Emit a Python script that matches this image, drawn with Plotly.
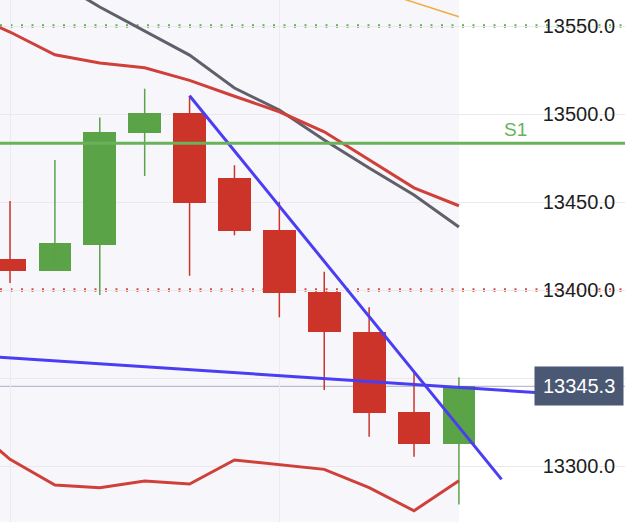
import plotly.graph_objects as go

# ---- data ----
idx = [0, 1, 2, 3, 4, 5, 6, 7, 8, 9, 10]
opens = [13417.6, 13410.8, 13425.6, 13489.4, 13500.4, 13463.8, 13434.3, 13398.7, 13376.0, 13330.9, 13312.5]
highs = [13450.6, 13473.9, 13498.1, 13514.4, 13510.4, 13470.9, 13450.2, 13410.4, 13390.2, 13353.0, 13350.4]
lows = [13404.0, 13410.8, 13397.2, 13464.8, 13408.1, 13431.1, 13384.5, 13343.2, 13316.6, 13305.3, 13278.2]
closes = [13410.8, 13426.5, 13489.6, 13500.4, 13449.6, 13433.7, 13398.1, 13376.0, 13330.3, 13312.5, 13345.3]

line_x = [-1, 0, 1, 2, 3, 4, 5, 6, 7, 8, 9, 10]
gray_ma = [13605.0, 13590.3, 13576.1, 13560.8, 13547.2, 13533.5, 13514.8, 13502.3, 13485.2, 13469.3, 13454.0, 13435.8]
red_ma = [13558.0, 13546.6, 13533.7, 13529.0, 13526.3, 13519.1, 13510.1, 13501.3, 13489.9, 13473.9, 13458.1, 13447.9]
lower_band = [13325.7, 13303.8, 13289.2, 13287.7, 13291.5, 13289.8, 13303.4, 13300.7, 13298.1, 13287.7, 13274.6, 13291.6]
orange_x = [8, 9, 10]
orange_line = [13571.6, 13563.3, 13555.3]

trend1_x = [4, 10.95]
trend1_y = [13510.4, 13292.4]
trend2_x = [-1, 11.7]
trend2_y = [13363.1, 13341.8]

resistance_level = 13550.0
support_dotted = 13400.0
s1_level = 13483.4
s1_label = "S1"
last_price = 13345.3

y_ticks = [13300, 13350, 13400, 13450, 13500, 13550]
y_labels = ["13300.0", "", "13400.0", "13450.0", "13500.0", "13550.0"]

UP = "#5ba347"
DOWN = "#cc342a"

fig = go.Figure()

# background lavender region (up to last candle)
fig.add_shape(type="rect", xref="x", yref="paper", x0=-1, x1=idx[-1], y0=0, y1=1,
              fillcolor="#f7f7fb", line_width=0, layer="below")

# horizontal reference lines
fig.add_shape(type="line", xref="paper", yref="y", x0=0, x1=1, y0=resistance_level, y1=resistance_level,
              line=dict(color="#62ad52", width=3.5, dash="2px,8.5px"), layer="between")
fig.add_shape(type="line", xref="paper", yref="y", x0=0, x1=1, y0=support_dotted, y1=support_dotted,
              line=dict(color="#d94a40", width=3.5, dash="2px,8.5px"), layer="between")
fig.add_shape(type="line", xref="paper", yref="y", x0=0, x1=1, y0=last_price, y1=last_price,
              line=dict(color="#a9aec0", width=1), layer="between")

# wicks
for i, h, l, o, c in zip(idx, highs, lows, opens, closes):
    col = UP if c >= o else DOWN
    fig.add_trace(go.Scatter(x=[i, i], y=[l, h], mode="lines", line=dict(color=col, width=1.5),
                             hoverinfo="skip", showlegend=False))

# bodies
bases = [min(o, c) for o, c in zip(opens, closes)]
heights = [max(abs(c - o), 0.3) for o, c in zip(opens, closes)]
colors = [UP if c >= o else DOWN for o, c in zip(opens, closes)]
fig.add_trace(go.Bar(x=idx, y=heights, base=bases, width=0.73,
                     marker=dict(color=colors, line=dict(width=0)), showlegend=False))

# S1 line
fig.add_shape(type="line", xref="paper", yref="y", x0=0, x1=1, y0=s1_level, y1=s1_level,
              line=dict(color="#6ab25a", width=3), layer="above")

# moving averages / bands
fig.add_trace(go.Scatter(x=line_x, y=gray_ma, mode="lines", line=dict(color="#60606c", width=3), showlegend=False))
fig.add_trace(go.Scatter(x=line_x, y=red_ma, mode="lines", line=dict(color="#d0403a", width=3), showlegend=False))
fig.add_trace(go.Scatter(x=line_x, y=lower_band, mode="lines", line=dict(color="#d0403a", width=3), showlegend=False))
fig.add_trace(go.Scatter(x=orange_x, y=orange_line, mode="lines", line=dict(color="#f0ad3c", width=1.5), showlegend=False))

# trend lines
fig.add_trace(go.Scatter(x=trend1_x, y=trend1_y, mode="lines", line=dict(color="#4b3df2", width=3), showlegend=False))
fig.add_trace(go.Scatter(x=trend2_x, y=trend2_y, mode="lines", line=dict(color="#4b3df2", width=3), showlegend=False))

# annotations
fig.add_annotation(x=11.25, y=s1_level, xref="x", yref="y", text=s1_label, showarrow=False,
                   yanchor="bottom", yshift=1, font=dict(family="Liberation Sans", size=19, color="#6ab25a"))
fig.add_annotation(x=1, y=last_price, xref="paper", yref="y", text=f"{last_price:.1f}", showarrow=False,
                   xanchor="right", xshift=-1, bgcolor="#4a5873", borderpad=8,
                   font=dict(family="Liberation Sans", size=20, color="#ffffff"))

fig.update_layout(
    width=625, height=522,
    margin=dict(l=0, r=0, t=0, b=0),
    paper_bgcolor="#ffffff", plot_bgcolor="#ffffff",
    showlegend=False, bargap=0,
    xaxis=dict(range=[-0.223, 13.70], tickvals=[0, 6], showticklabels=False, showgrid=True,
               gridcolor="#ebebf0", gridwidth=1, zeroline=False, ticks="", showline=False, fixedrange=True),
    yaxis=dict(range=[13268.2, 13564.8], side="right", tickvals=y_ticks, ticktext=y_labels,
               ticklabelposition="inside", ticklabelstandoff=7, ticks="", showgrid=True,
               gridcolor="#e9e9ee", gridwidth=1, zeroline=False, showline=False,
               tickfont=dict(family="Liberation Sans", size=20, color="#1e1e1e")),
)

fig.write_html("out.html")
